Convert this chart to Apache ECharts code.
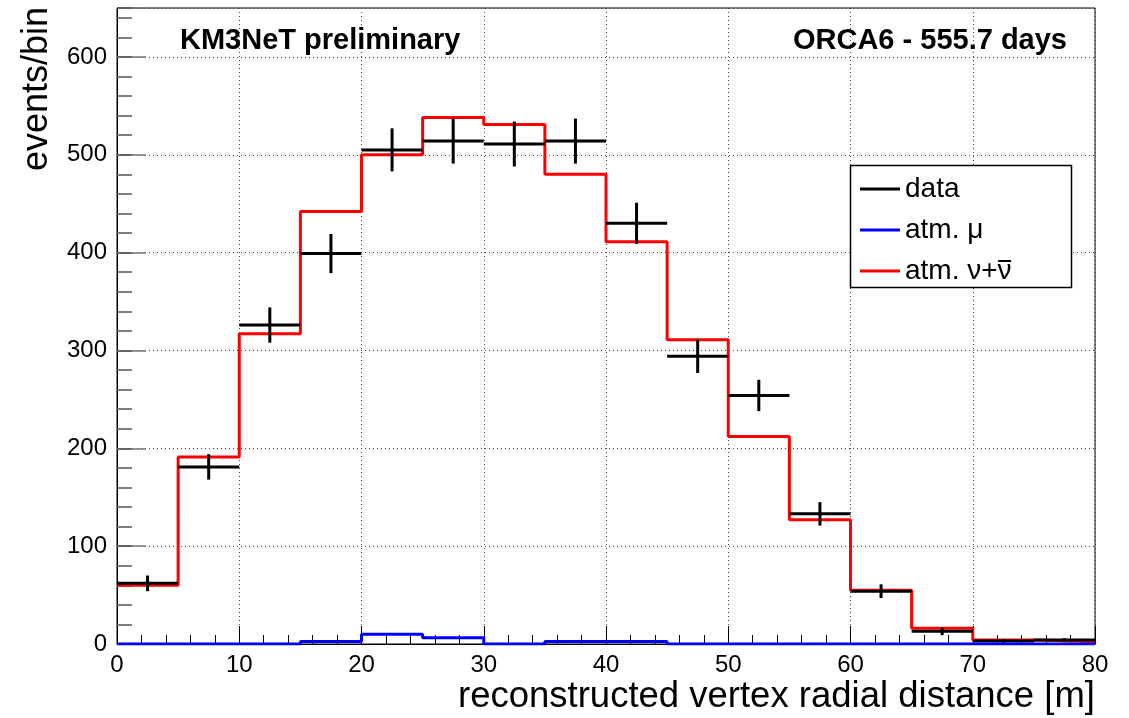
<!DOCTYPE html>
<html>
<head>
<meta charset="utf-8">
<script src="https://cdn.jsdelivr.net/npm/echarts@6/dist/echarts.min.js"></script>
<style>
html,body{margin:0;padding:0;background:#fff;}
#chart{width:1129px;height:718px;}
</style>
</head>
<body>
<div id="chart"></div>
<script>
// bin edges (m)
const binEdges = [0,5,10,15,20,25,30,35,40,45,50,55,60,65,70,75,80];
// data: events per bin and statistical errors
const dataValues = [62,181,326,399,505,514,511,514,430,294,254,133,54,13,3,4];
const dataErrors = [8,13,18,20,22,23,23,23,21,17,16,12,7,4,2,2];
// atm. muon MC
const muValues = [0,0,0,2.5,10,6.5,0,2.5,2.5,0,0,0,0,0,0,0];
// atm. neutrino MC
const nuValues = [60,191,317,442,500,538,531,480,411,311,212,127,55,16,4,2.5];

// legend names; the bar over the last nu is drawn as an overline decoration
const legendNames = ['data','atm. \u03bc','atm. \u03bd+\u03bd'];
const xTitle = 'reconstructed vertex radial distance [m]';
const yTitle = 'events/bin';
const leftText = 'KM3NeT preliminary';
const rightText = 'ORCA6 - 555.7 days';

function stepData(vals){
  const d = [];
  for(let i=0;i<vals.length;i++) d.push([binEdges[i], vals[i]]);
  d.push([binEdges[binEdges.length-1], vals[vals.length-1]]);
  return d;
}
const crossData = dataValues.map((v,i)=>[(binEdges[i]+binEdges[i+1])/2, v, dataErrors[i], binEdges[i], binEdges[i+1]]);

const FONT = '"Liberation Sans", Arial, Helvetica, sans-serif';
const LEG_FONT_SIZE = 28;
const LEG_LEFT = 855, LEG_TOP = 170, LEG_ICON_W = 40, LEG_GAP = 13;

// measure text for overline decoration
const mctx = document.createElement('canvas').getContext('2d');
mctx.font = LEG_FONT_SIZE + 'px ' + FONT;
const preW = mctx.measureText('atm. \u03bd+').width;
const nuW = mctx.measureText('\u03bd').width;
const legTextX = LEG_LEFT + 5 + LEG_ICON_W + 5;
const row3Center = LEG_TOP + 5 + 2*(LEG_FONT_SIZE + LEG_GAP) + LEG_FONT_SIZE/2;

const chart = echarts.init(document.getElementById('chart'), null, {renderer:'canvas'});

const option = {
  backgroundColor:'#fff',
  animation:false,
  grid:{left:117, right:34, top:8, bottom:74, show:true, borderColor:'#000', borderWidth:1, backgroundColor:'transparent'},
  xAxis:[
    {type:'value', min:0, max:80, interval:10, position:'bottom',
     axisLine:{show:true, lineStyle:{color:'#000', width:1}},
     axisTick:{show:true, inside:true, length:18, lineStyle:{color:'#000', width:1}},
     axisLabel:{show:true, fontSize:24, color:'#000', fontFamily:FONT, margin:9},
     splitLine:{show:true, lineStyle:{color:'#444', type:[1,3], width:1}}},
    {type:'value', min:0, max:80, interval:2, position:'bottom',
     axisLine:{show:false},
     axisTick:{show:true, inside:true, length:9, lineStyle:{color:'#000', width:1}},
     axisLabel:{show:false}, splitLine:{show:false}}
  ],
  yAxis:[
    {type:'value', min:0, max:650, interval:100,
     axisLine:{show:true, lineStyle:{color:'#000', width:1}},
     axisTick:{show:true, inside:true, length:29, lineStyle:{color:'#777', width:1.5}},
     axisLabel:{show:true, fontSize:24, color:'#000', fontFamily:FONT, margin:10,
       formatter:v => (v % 100 === 0 ? String(v) : '')},
     splitLine:{show:true, lineStyle:{color:'#444', type:[1,3], width:1}}},
    {type:'value', min:0, max:650, interval:20, position:'left',
     axisLine:{show:false},
     axisTick:{show:true, inside:true, length:15, lineStyle:{color:'#555', width:1.5}},
     axisLabel:{show:false}, splitLine:{show:false}}
  ],
  legend:{
    orient:'vertical', left:LEG_LEFT, top:LEG_TOP, z:10,
    icon:'rect', itemWidth:LEG_ICON_W, itemHeight:3, itemGap:LEG_GAP,
    textStyle:{fontSize:LEG_FONT_SIZE, color:'#000', fontFamily:FONT, lineHeight:LEG_FONT_SIZE},
    data:legendNames
  },
  graphic:[
    {type:'rect', z:8, shape:{x:850.5, y:165.5, width:221, height:122},
     style:{fill:'#fff', stroke:'#000', lineWidth:1.5}},
    {type:'line', z:11, shape:{x1:legTextX+preW+0.5, y1:row3Center-10, x2:legTextX+preW+nuW-0.5, y2:row3Center-10},
     style:{stroke:'#000', lineWidth:2}},
    {type:'text', z:9, left:180, top:26,
     style:{text:leftText, font:'bold 29px '+FONT, fill:'#000'}},
    {type:'text', z:9, right:1129-1067, top:26,
     style:{text:rightText, font:'bold 29px '+FONT, fill:'#000', textAlign:'right'}},
    {type:'text', z:9, x:1095, y:715,
     style:{text:xTitle, font:'36.5px '+FONT, fill:'#000', textAlign:'right', textVerticalAlign:'bottom'}},
    {type:'text', z:9, x:55, y:7, rotation:Math.PI/2,
     style:{text:yTitle, font:'36px '+FONT, fill:'#000', textAlign:'right', textVerticalAlign:'bottom'}}
  ],
  series:[
    {name:legendNames[2], type:'line', step:'end', data:stepData(nuValues), showSymbol:false,
     lineStyle:{color:'#ff0000', width:3}, itemStyle:{color:'#ff0000'}, z:3},
    {name:legendNames[0], type:'custom', z:4,
     itemStyle:{color:'#000'},
     renderItem:function(params, api){
       const c = api.value(0), v = api.value(1), e = api.value(2), lo = api.value(3), hi = api.value(4);
       const pL = api.coord([lo, v]), pR = api.coord([hi, v]);
       const pT = api.coord([c, v+e]), pB = api.coord([c, v-e]);
       return {type:'group', children:[
         {type:'line', shape:{x1:pL[0], y1:pL[1], x2:pR[0], y2:pR[1]}, style:{stroke:'#000', lineWidth:3}},
         {type:'line', shape:{x1:pT[0], y1:pT[1], x2:pB[0], y2:pB[1]}, style:{stroke:'#000', lineWidth:3}}
       ]};
     },
     encode:{x:0, y:1},
     data:crossData},
    {name:legendNames[1], type:'line', step:'end', data:stepData(muValues), showSymbol:false,
     lineStyle:{color:'#0000ff', width:3}, itemStyle:{color:'#0000ff'}, z:5}
  ]
};
chart.setOption(option);
</script>
</body>
</html>
